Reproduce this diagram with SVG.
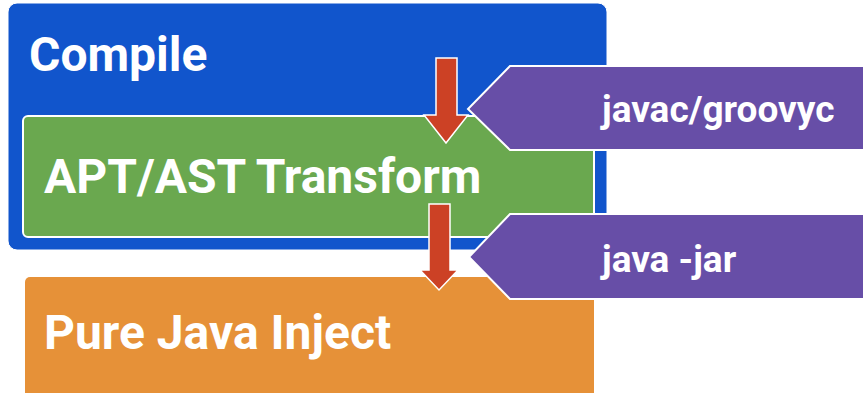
<svg xmlns="http://www.w3.org/2000/svg" width="863" height="393" viewBox="0 0 863 393">
<style>
.t{font-family:Roboto,"Liberation Sans",sans-serif;font-weight:bold;fill:#fff}
.big{font-size:48px}
.small{font-size:37px}
.pur{fill:#674EA7;stroke:#fff;stroke-width:2}
.red{fill:#CC4125;stroke:#fff;stroke-width:1.5}
</style>
<rect width="863" height="393" fill="#fff"/>
<g id="compile">
<rect x="8" y="3" width="599" height="247" rx="9" fill="#1155CC" stroke="#fff" stroke-width="1"/>
<text class="t big" x="29" y="71">Compile</text>
</g>
<g id="apt">
<rect x="23" y="116" width="571" height="121" rx="5" fill="#6AA84F" stroke="#fff" stroke-width="2"/>
<text class="t big" x="44" y="193">APT/AST Transform</text>
</g>
<g id="pure">
<rect x="25" y="277" width="569" height="130" rx="5" fill="#E69138"/>
<text class="t big" x="44" y="349">Pure Java Inject</text>
</g>
<g id="javac">
<polygon class="pur" points="510,66 864,66 864,150 510,150 468,109"/>
<text class="t small" x="602" y="122">javac/groovyc</text>
</g>
<g id="javajar">
<polygon class="pur" points="510,214 864,214 864,299 510,299 469,257"/>
<text class="t small" x="602" y="272">java -jar</text>
</g>
<g id="connectors">
<polygon class="red" points="436,58 457,58 457,115 468,115 446,143 424,115 436,115"/>
<polygon class="red" points="429,204 450,204 450,270 458,270 439,290 420,270 429,270"/>
</g>
</svg>
